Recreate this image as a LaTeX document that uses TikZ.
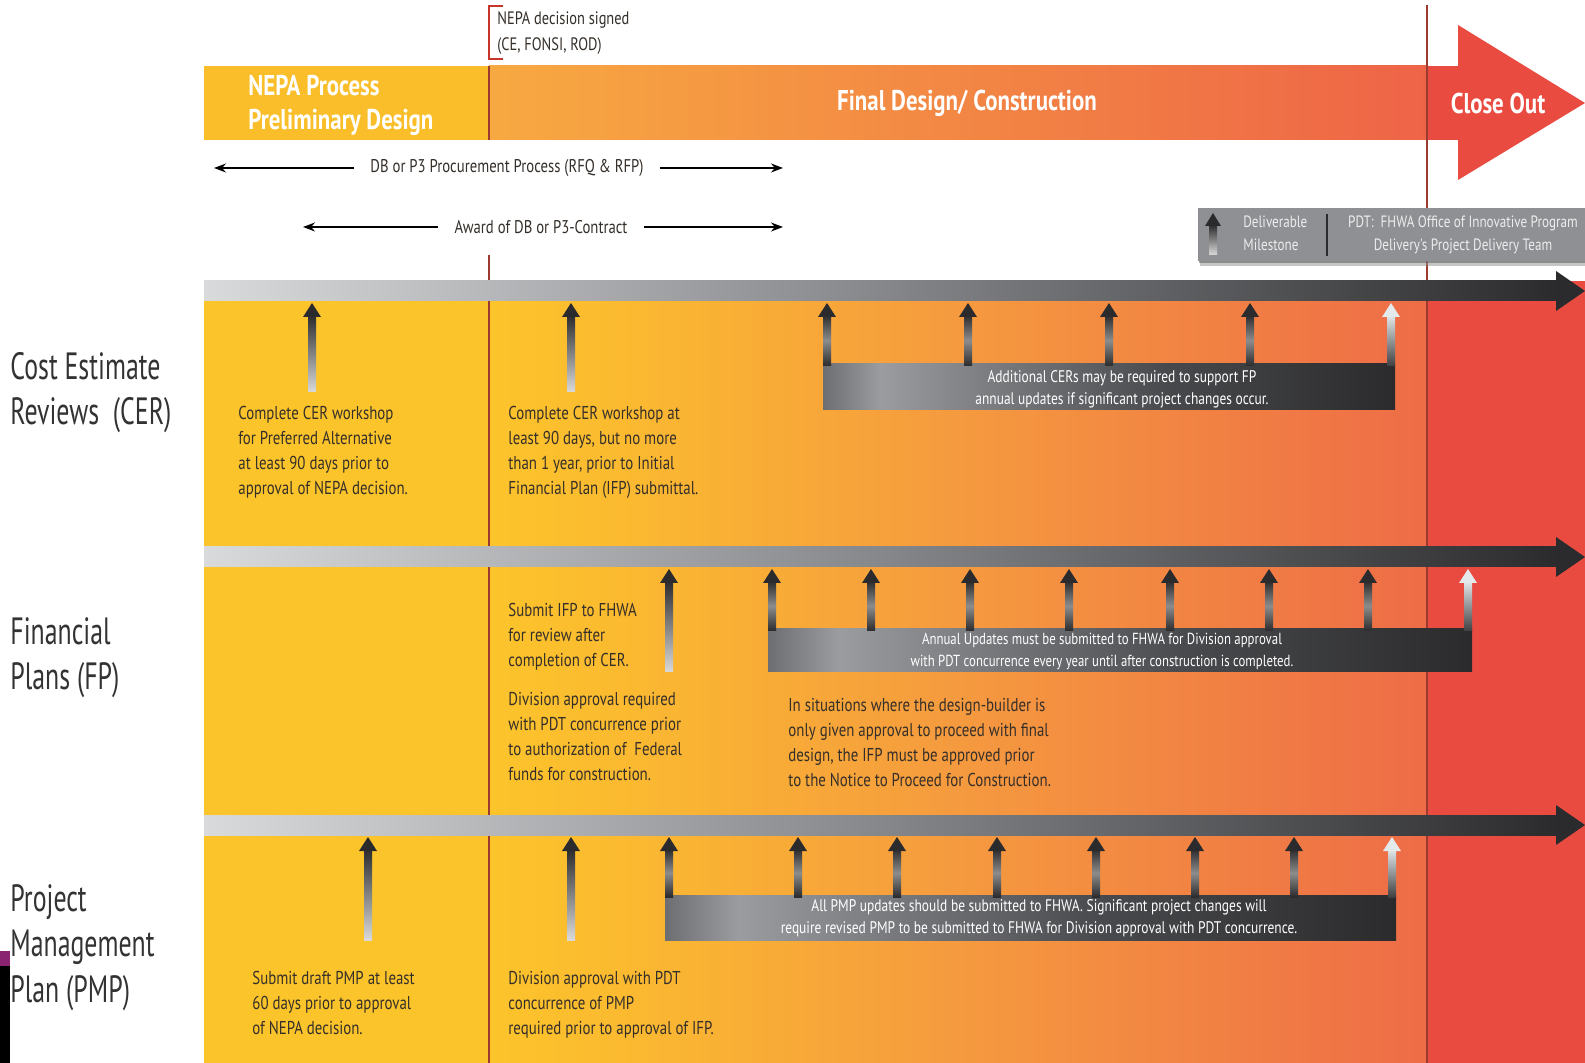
\documentclass[tikz,border=0pt]{standalone}
\usepackage{fontspec}
\setmainfont{PT Sans}
\usetikzlibrary{arrows.meta,shadows}
\newfontfamily\labfont[FakeStretch=0.68]{PT Sans}
\newfontfamily\txtfont[FakeStretch=0.8]{PT Sans}
\newfontfamily\headfont[FakeStretch=0.8]{PT Sans}
\definecolor{pyel}{HTML}{FCC42B}
\definecolor{pyelb}{HTML}{FBBA30}
\definecolor{porg}{HTML}{F59A3F}
\definecolor{pred}{HTML}{EE6C47}
\definecolor{cred}{HTML}{E94B41}
\definecolor{ayel}{HTML}{F9BE2A}
\definecolor{aorgA}{HTML}{F7A941}
\definecolor{aorgB}{HTML}{EE6447}
\definecolor{vline}{HTML}{9B3B2F}
\definecolor{bracketc}{HTML}{C8352B}
\definecolor{txt}{HTML}{352F2A}
\definecolor{lab}{HTML}{333333}
\definecolor{barL}{HTML}{D8DADC}
\definecolor{barM}{HTML}{85878A}
\definecolor{barD}{HTML}{2B2B2D}
\definecolor{bandA}{HTML}{6C6E72}
\definecolor{bandB}{HTML}{9A9CA0}
\definecolor{bandC}{HTML}{48494C}
\definecolor{msL}{HTML}{DADADA}
\definecolor{msW}{HTML}{E4E9EB}
\definecolor{legbg}{HTML}{8E9094}
\definecolor{legtxt}{HTML}{EDEDED}
\definecolor{artp}{HTML}{8A2470}
\pgfdeclarehorizontalshading{panelsh}{100bp}{color(0bp)=(pyel); color(25bp)=(pyel); color(32bp)=(pyelb); color(50bp)=(porg); color(75bp)=(pred); color(100bp)=(pred)}
\pgfdeclarehorizontalshading{bandsh}{100bp}{color(0bp)=(bandA); color(25bp)=(bandA); color(30bp)=(bandB); color(55bp)=(bandC); color(75bp)=(barD); color(100bp)=(barD)}
\newcommand\darkms[3]{%
  \shade[top color=barD, bottom color=msL] (#1-4,#2+12) rectangle (#1+4,#3);
  \fill[barD] (#1-9,#2+14) -- (#1,#2) -- (#1+9,#2+14) -- cycle;}
\newcommand\combms[3]{%
  \shade[top color=barD, bottom color=barD, middle color=black!45] (#1-4,#2+12) rectangle (#1+4,#3);
  \fill[barD] (#1-9,#2+14) -- (#1,#2) -- (#1+9,#2+14) -- cycle;}
\newcommand\lightms[3]{%
  \shade[top color=msW, bottom color=barD!90] (#1-4,#2+12) rectangle (#1+4,#3);
  \fill[msW] (#1-9,#2+14) -- (#1,#2) -- (#1+9,#2+14) -- cycle;}
\tikzset{
  body/.style={font=\txtfont\fontsize{9.3}{12.5}\selectfont, text=txt, align=left, inner sep=0pt, anchor=north west},
  bandtxt/.style={font=\txtfont\fontsize{8.4}{11}\selectfont, text=white, align=center, inner sep=0pt},
  rowlab/.style={font=\labfont\fontsize{19}{22.75}\selectfont, text=lab, align=left, inner sep=0pt, anchor=north west},
  head/.style={font=\headfont\bfseries\fontsize{14.3}{17}\selectfont, text=white, inner sep=0pt},
  small/.style={font=\txtfont\fontsize{9}{13}\selectfont, text=txt, inner sep=0pt},
  legt/.style={font=\txtfont\fontsize{8.2}{11.5}\selectfont, text=legtxt, inner sep=0pt},
  procarrow/.style={draw=black, line width=0.7pt, -{Stealth[length=6pt,width=4.5pt]}},
  grayarrowbar/.style={left color=barL, right color=barD, middle color=barM},
}
\begin{document}
\begin{tikzpicture}[x=0.5pt,y=-0.5pt]
\useasboundingbox (0,0) rectangle (1585,1063);
\fill[white] (0,0) rectangle (1585,1063);
% artefact at bottom left
\fill[artp] (0,951) rectangle (10,966);
\fill[black] (0,966) rectangle (10,1063);
% panel
\fill[pyel] (204,281) rectangle (490,1063);
\shade[shading=panelsh] (489,281) rectangle (1427,1063);
\fill[cred] (1427,281) rectangle (1585,1063);
% top arrow
\fill[ayel] (204,66) rectangle (490,140);
\shade[left color=aorgA, right color=aorgB] (489,66) rectangle (1428,140);
\fill[cred] (1427,66) rectangle (1459,140);
\fill[cred] (1458,25) -- (1585,103) -- (1458,180) -- cycle;
% vertical lines
\draw[bracketc, line width=0.6pt] (503,6) -- (489,6) -- (489,59) -- (503,59);
\draw[vline, line width=0.6pt] (489,66) -- (489,140);
\draw[vline, line width=0.7pt] (489,255) -- (489,1063);
\draw[vline, line width=0.7pt] (1427,5) -- (1427,1063);
% gray bars
\shade[grayarrowbar] (204,281) rectangle (1558,301);
\fill[barD] (1556,271) -- (1585,291) -- (1556,311) -- cycle;
\shade[grayarrowbar] (204,547) rectangle (1558,567);
\fill[barD] (1556,537) -- (1585,557) -- (1556,577) -- cycle;
\shade[grayarrowbar] (204,815) rectangle (1558,835);
\fill[barD] (1556,805) -- (1585,825) -- (1556,845) -- cycle;
% CER row
\darkms{312}{303}{392}
\darkms{571}{303}{392}
\shade[shading=bandsh] (823,364) rectangle (1395,410);
\combms{827}{303}{366}\combms{968}{303}{366}\combms{1109}{303}{366}\combms{1250}{303}{366}
\lightms{1391}{303}{366}
% FP row
\darkms{669}{569}{672}
\shade[shading=bandsh] (768,629) rectangle (1472,672);
\combms{772}{569}{631}\combms{871}{569}{631}\combms{970}{569}{631}\combms{1069}{569}{631}
\combms{1170}{569}{631}\combms{1269}{569}{631}\combms{1368}{569}{631}
\lightms{1468}{569}{631}
% PMP row
\darkms{368}{837}{940}
\darkms{571}{837}{940}
\shade[shading=bandsh] (665,895) rectangle (1396,940);
\combms{669}{837}{897}\combms{798}{837}{897}\combms{897}{837}{897}\combms{997}{837}{897}
\combms{1096}{837}{897}\combms{1195}{837}{897}\combms{1294}{837}{897}
\lightms{1392}{837}{897}
% top texts
\node[small, anchor=north west, align=left] (nepasig) at (497,11) {NEPA decision signed\\(CE, FONSI, ROD)};
\node[head, anchor=north west, align=left] (nepahead) at (248,75) {NEPA Process\\Preliminary Design};
\node[head] (final) at (967,103) {Final Design/ Construction};
\node[head] (close) at (1498,103) {Close Out};
\coordinate (pl) at (214,168);
\coordinate (pr) at (783,168);
\node[small, font=\txtfont\fontsize{9.2}{12}\selectfont, inner xsep=8pt] (proc) at (507,168) {DB or P3 Procurement Process (RFQ \& RFP)};
\draw[procarrow] (proc.west) -- (pl);
\draw[procarrow] (proc.east) -- (pr);
\coordinate (al) at (303,227);
\coordinate (ar) at (783,227);
\node[small, font=\txtfont\fontsize{9.2}{12}\selectfont, inner xsep=8pt] (award) at (541,227) {Award of DB or P3-Contract};
\draw[procarrow] (award.west) -- (al);
\draw[procarrow] (award.east) -- (ar);
% legend
\fill[black!45, opacity=0.5] (1200,212) rectangle (1585,266);
\fill[black!60, opacity=0.6] (1199,210) rectangle (1585,263);
\fill[legbg] (1198,208) rectangle (1585,261);
\shade[top color=barD, bottom color=msL] (1213-4,213+12) rectangle (1213+4,255);
\fill[barD] (1213-8,213+13) -- (1213,213) -- (1213+8,213+13) -- cycle;
\node[legt, anchor=north west, align=left] (legdel) at (1243,215) {Deliverable\\Milestone};
\draw[barD, line width=0.8pt] (1327,214) -- (1327,256);
\node[legt, anchor=north, align=center] (legpdt) at (1463,215) {PDT:\ \ FHWA Office of Innovative Program\\Delivery's Project Delivery Team};
% row labels
\node[rowlab] (cerlab) at (10,352) {Cost Estimate\\Reviews\ \ (CER)};
\node[rowlab] (fplab) at (10,617) {Financial\\Plans (FP)};
\node[rowlab] (pmplab) at (10,884) {Project\\Management\\Plan (PMP)};
% CER texts
\node[body] (cer1) at (238,406) {Complete CER workshop\\for Preferred Alternative\\at least 90 days prior to\\approval of NEPA decision.};
\node[body] (cer2) at (508,406) {Complete CER workshop at\\least 90 days, but no more\\than 1 year, prior to Initial\\Financial Plan (IFP) submittal.};
\node[bandtxt] (cerband) at (1122,389) {Additional CERs may be required to support FP\\annual updates if significant project changes occur.};
% FP texts
\node[body] (fp1) at (508,603) {Submit IFP to FHWA\\for review after\\completion of CER.};
\node[body] (fp2) at (508,692) {Division approval required\\with PDT concurrence prior\\to authorization of\ \ Federal\\funds for construction.};
\node[bandtxt, font=\txtfont\fontsize{8}{11}\selectfont] (fpband) at (1102,651) {Annual Updates must be submitted to FHWA for Division approval\\with PDT concurrence every year until after construction is completed.};
\node[body] (fp3) at (788,698) {In situations where the design-builder is\\only given approval to proceed with final\\design, the IFP must be approved prior\\to the Notice to Proceed for Construction.};
% PMP texts
\node[bandtxt] (pmpband) at (1039,918) {All PMP updates should be submitted to FHWA. Significant project changes will\\require revised PMP to be submitted to FHWA for Division approval with PDT concurrence.};
\node[body] (pmp1) at (252,971) {Submit draft PMP at least\\60 days prior to approval\\of NEPA decision.};
\node[body] (pmp2) at (508,971) {Division approval with PDT\\concurrence of PMP\\required prior to approval of IFP.};
\end{tikzpicture}
\end{document}
